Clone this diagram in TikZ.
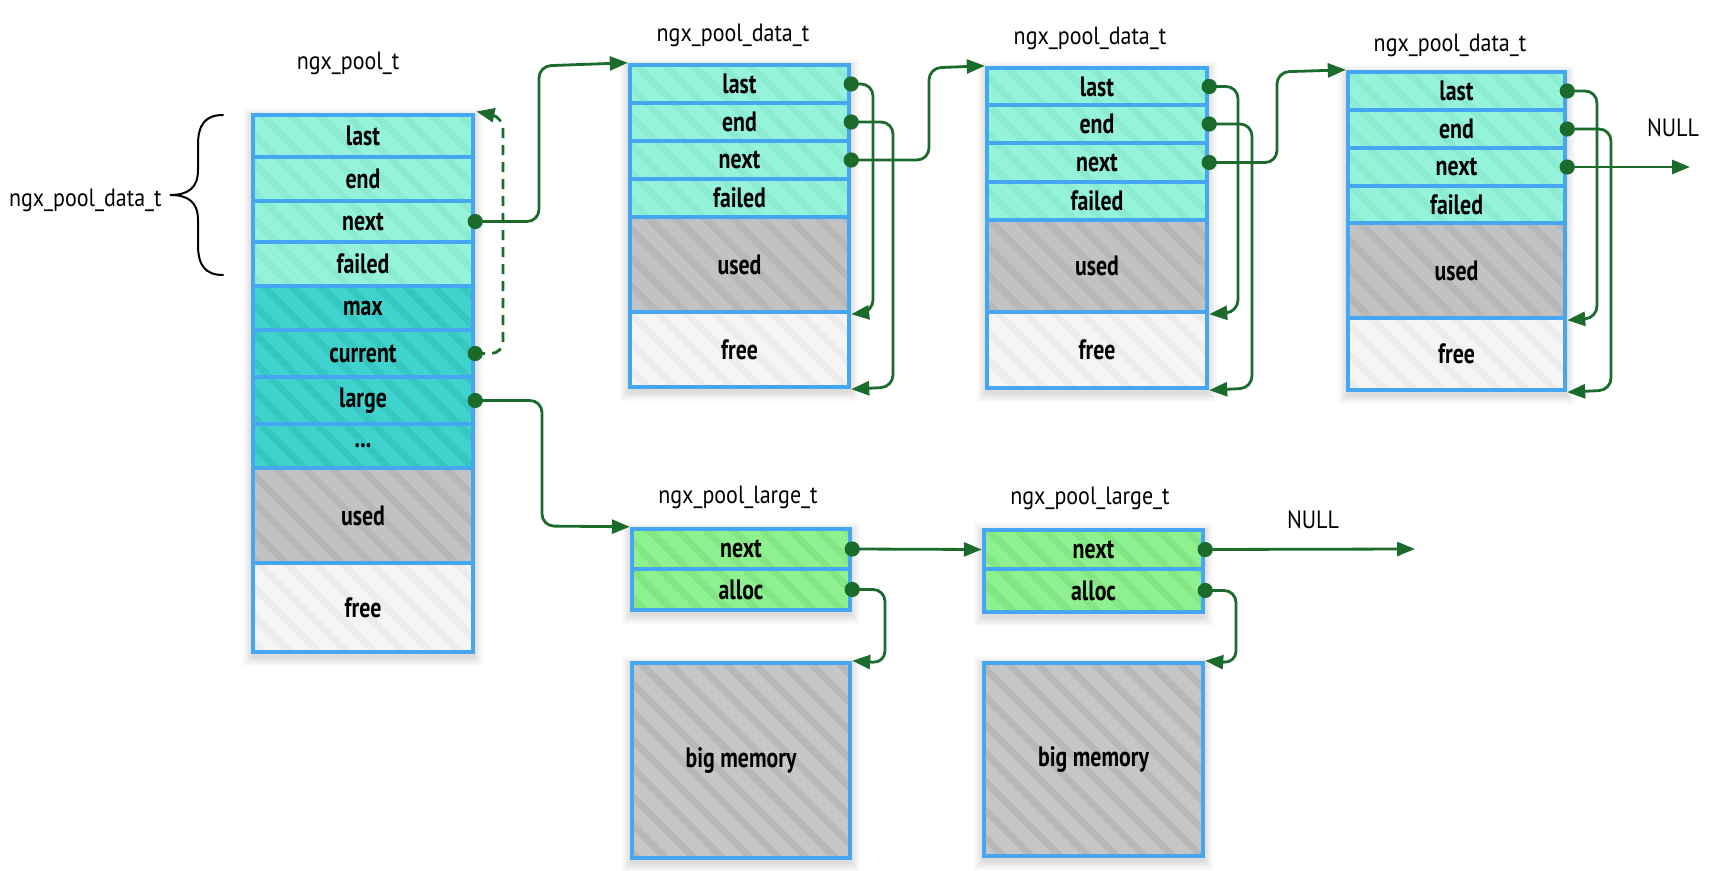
\documentclass[tikz,border=0pt]{standalone}
\usepackage{fontspec}
\setmainfont{PT Sans}
\newfontfamily\lblfont[FakeStretch=0.78]{PT Sans}
\newfontfamily\ttlfont[FakeStretch=0.88]{PT Sans}
\usetikzlibrary{arrows.meta,patterns.meta}
\definecolor{boxblue}{HTML}{45A6F2}
\definecolor{conngreen}{HTML}{1B6B2C}
\definecolor{tealAbase}{HTML}{95F3DA}
\definecolor{tealAstripe}{HTML}{8AEBD1}
\definecolor{tealBbase}{HTML}{40D2CC}
\definecolor{tealBstripe}{HTML}{37C7C2}
\definecolor{usedbase}{HTML}{C2C2C2}
\definecolor{usedstripe}{HTML}{B7B7B7}
\definecolor{freebase}{HTML}{F5F5F5}
\definecolor{freestripe}{HTML}{ECECEC}
\definecolor{grnbase}{HTML}{8EF08E}
\definecolor{grnstripe}{HTML}{83E683}
\definecolor{bigbase}{HTML}{C6C6C6}
\definecolor{bigstripe}{HTML}{B8B8B8}
\newcommand\cellbox[7]{\node[#6, minimum width={(#4-#2)*0.5pt}, minimum height={(#5-#3)*0.5pt}] (#1) at ({(#2+#4)/2},{(#3+#5)/2}) {#7};}
\newcommand\softshadow[4]{\foreach \k in {1,...,6} {\fill[black, opacity=0.025] (#1-\k*1.6, #2-\k*1.6+3) rectangle (#3+\k*1.6, #4+\k*1.6+4);}}
\begin{document}
\begin{tikzpicture}[x=0.5pt,y=-0.5pt,
  cellbase/.style={draw=boxblue, line width=2.2pt, inner sep=0pt,
    font={\lblfont\bfseries\fontsize{14pt}{16pt}\selectfont}},
  hatch/.style 2 args={preaction={fill=#1},
    pattern={Lines[angle=-45,distance=10pt,line width=3.5pt]}, pattern color=#2},
  tealA/.style={cellbase, hatch={tealAbase}{tealAstripe}},
  tealB/.style={cellbase, hatch={tealBbase}{tealBstripe}},
  usedc/.style={cellbase, hatch={usedbase}{usedstripe}},
  freec/.style={cellbase, hatch={freebase}{freestripe}},
  grnc/.style={cellbase, hatch={grnbase}{grnstripe}},
  bigc/.style={cellbase, hatch={bigbase}{bigstripe}},
  ttl/.style={inner sep=0pt, font={\ttlfont\fontsize{12.5pt}{14pt}\selectfont}},
  conn/.style={draw=conngreen, line width=1.4pt, rounded corners=6pt,
    -{Triangle[length=9pt,width=7pt]}},
  dotc/.style={fill=conngreen}
]
\useasboundingbox (0,0) rectangle (1729,871);

% shadows
\softshadow{253}{115}{473}{652}
\softshadow{630}{65}{849}{387}
\softshadow{987}{68}{1207}{388}
\softshadow{1348}{72}{1565}{390}
\softshadow{632}{529}{850}{610}
\softshadow{984}{530}{1203}{612}
\softshadow{632}{663}{850}{858}
\softshadow{984}{663}{1203}{856}

% titles
\node[ttl] (tpool) at (348,63) {ngx\_pool\_t};
\node[ttl, anchor=east] (tdatal) at (162,200) {ngx\_pool\_data\_t};
\node[ttl] (td1) at (733,35) {ngx\_pool\_data\_t};
\node[ttl] (td2) at (1090,38) {ngx\_pool\_data\_t};
\node[ttl] (td3) at (1450,45) {ngx\_pool\_data\_t};
\node[ttl] (tl1) at (738,497) {ngx\_pool\_large\_t};
\node[ttl] (tl2) at (1090,498) {ngx\_pool\_large\_t};
\node[ttl] (nulla) at (1673,128) {NULL};
\node[ttl] (nullb) at (1313,520) {NULL};

% brace
\draw[line width=1pt, line cap=round] (223,115) .. controls (205,115) and (198,125) .. (198,145) -- (198,170) .. controls (198,188) and (188,195) .. (170,195) .. controls (188,195) and (198,202) .. (198,220) -- (198,245) .. controls (198,265) and (205,275) .. (223,275);

% pool
\cellbox{plast}{253}{115}{473}{157}{tealA}{last}
\cellbox{pend}{253}{157}{473}{201}{tealA}{end}
\cellbox{pnext}{253}{201}{473}{242}{tealA}{next}
\cellbox{pfail}{253}{242}{473}{286}{tealA}{failed}
\cellbox{pmax}{253}{286}{473}{330}{tealB}{max}
\cellbox{pcur}{253}{330}{473}{377}{tealB}{current}
\cellbox{plarge}{253}{377}{473}{424}{tealB}{large}
\cellbox{pdots}{253}{424}{473}{468}{tealB}{...}
\cellbox{pused}{253}{468}{473}{563}{usedc}{used}
\cellbox{pfree}{253}{563}{473}{652}{freec}{free}

% data 1
\cellbox{d1a}{630}{65}{849}{103}{tealA}{last}
\cellbox{d1b}{630}{103}{849}{141}{tealA}{end}
\cellbox{d1c}{630}{141}{849}{179}{tealA}{next}
\cellbox{d1d}{630}{179}{849}{217}{tealA}{failed}
\cellbox{d1u}{630}{217}{849}{312}{usedc}{used}
\cellbox{d1f}{630}{312}{849}{387}{freec}{free}

% data 2
\cellbox{d2a}{987}{68}{1207}{105}{tealA}{last}
\cellbox{d2b}{987}{105}{1207}{143}{tealA}{end}
\cellbox{d2c}{987}{143}{1207}{182}{tealA}{next}
\cellbox{d2d}{987}{182}{1207}{220}{tealA}{failed}
\cellbox{d2u}{987}{220}{1207}{312}{usedc}{used}
\cellbox{d2f}{987}{312}{1207}{388}{freec}{free}

% data 3
\cellbox{d3a}{1348}{72}{1565}{110}{tealA}{last}
\cellbox{d3b}{1348}{110}{1565}{148}{tealA}{end}
\cellbox{d3c}{1348}{148}{1565}{186}{tealA}{next}
\cellbox{d3d}{1348}{186}{1565}{223}{tealA}{failed}
\cellbox{d3u}{1348}{223}{1565}{318}{usedc}{used}
\cellbox{d3f}{1348}{318}{1565}{390}{freec}{free}

% large 1 / 2
\cellbox{l1a}{632}{529}{850}{569}{grnc}{next}
\cellbox{l1b}{632}{569}{850}{610}{grnc}{alloc}
\cellbox{b1}{632}{663}{850}{858}{bigc}{big memory}
\cellbox{l2a}{984}{530}{1203}{569}{grnc}{next}
\cellbox{l2b}{984}{569}{1203}{612}{grnc}{alloc}
\cellbox{b2}{984}{663}{1203}{856}{bigc}{big memory}

% connectors
\draw[conn] (pnext.east) -| (539,66) -- (d1a.north west);
\draw[conn, dashed, dash pattern=on 5pt off 3.5pt] (pcur.east) -| (503,117) -- (plast.north east);
\draw[conn] (plarge.east) -| (542,526) -- (l1a.north west);

\draw[conn] (d1a.east) -| (873,312) -- (d1u.south east);
\draw[conn] (d1b.east) -| (893,387) -- (d1f.south east);
\draw[conn] (d1c.east) -| (929,68) -- (d2a.north west);

\draw[conn] (d2a.east) -| (1238,312) -- (d2u.south east);
\draw[conn] (d2b.east) -| (1252,388) -- (d2f.south east);
\draw[conn] (d2c.east) -| (1277,72) -- (d3a.north west);

\draw[conn] (d3a.east) -| (1597,318) -- (d3u.south east);
\draw[conn] (d3b.east) -| (1611,390) -- (d3f.south east);
\coordinate (null1) at (1690,167);
\draw[conn] (d3c.east) -- (null1);

\draw[conn] (l1a.east) -- (l2a.west);
\draw[conn] (l1b.east) -| (885,663) -- (b1.north east);
\coordinate (null2) at (1415,549);
\draw[conn] (l2a.east) -- (null2);
\draw[conn] (l2b.east) -| (1236,663) -- (b2.north east);

% dots
\foreach \n in {pnext,pcur,plarge,d1a,d1b,d1c,d2a,d2b,d2c,d3a,d3b,d3c,l1a,l1b,l2a,l2b}
  \fill[dotc] (\n.east) circle[radius=3.8pt];
\end{tikzpicture}
\end{document}
